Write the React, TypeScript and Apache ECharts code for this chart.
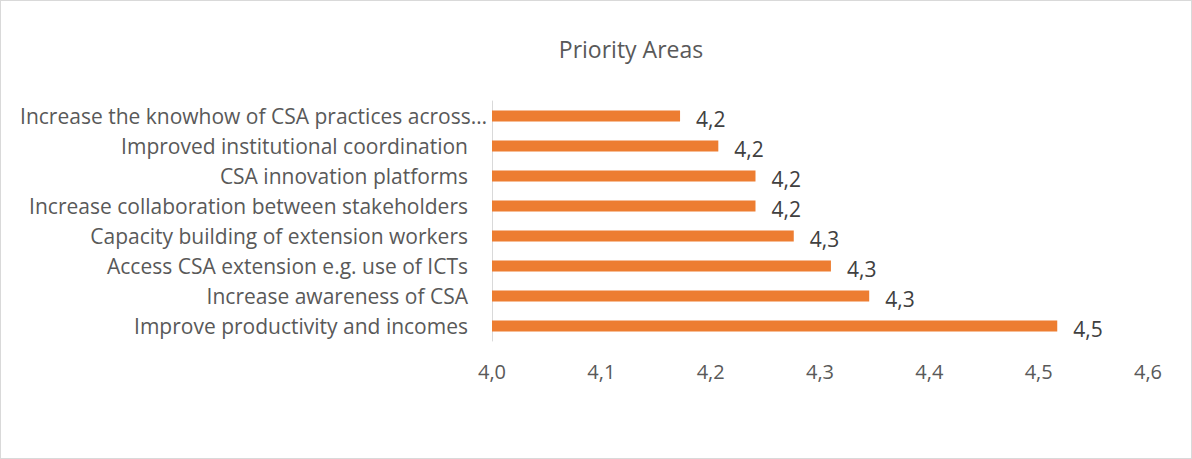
import React, { useEffect, useRef } from "react";
import * as echarts from "echarts";

const categories = [
  "Increase the knowhow of CSA practices across…",
  "Improved institutional coordination",
  "CSA innovation platforms",
  "Increase collaboration between stakeholders",
  "Capacity building of extension workers",
  "Access CSA extension e.g. use of ICTs",
  "Increase awareness of CSA",
  "Improve productivity and incomes",
];
const values = [4.172, 4.207, 4.241, 4.241, 4.276, 4.31, 4.345, 4.517];
const xMin = 4.0;
const xMax = 4.6;
const xInterval = 0.1;

const FONT = "Open Sans";

export default function App() {
  const ref = useRef<HTMLDivElement>(null);
  useEffect(() => {
    document.body.style.margin = "0";
    const chart = echarts.init(ref.current!, undefined, { renderer: "svg" });
    chart.setOption({
      animation: false,
      backgroundColor: "#ffffff",
      title: {
        text: "Priority Areas",
        left: 625,
        top: 31,
        textAlign: "center",
        textStyle: { fontFamily: FONT, fontSize: 23, fontWeight: "normal", color: "#595959" },
      },
      grid: { left: 491, right: 43, top: 100, bottom: 117, containLabel: false },
      xAxis: {
        type: "value",
        min: xMin,
        max: xMax,
        interval: xInterval,
        axisLine: { show: false },
        axisTick: { show: false },
        splitLine: { show: false },
        axisLabel: {
          margin: 20,
          fontFamily: FONT,
          fontSize: 20,
          color: "#595959",
          formatter: (v: number) => v.toFixed(1).replace(".", ","),
        },
      },
      yAxis: {
        type: "category",
        data: categories,
        inverse: true,
        axisLine: { show: true, lineStyle: { color: "#d9d9d9", width: 1 } },
        axisTick: { show: false },
        axisLabel: {
          margin: 5,
          fontFamily: FONT,
          fontSize: 21,
          color: "#595959",
          formatter: (v: string, i: number) => (i === 0 ? `{b|${v}}` : `{a|${v}}`),
          rich: {
            a: { fontFamily: FONT, fontSize: 21, color: "#595959", padding: [0, 19, 0, 0] },
            b: { fontFamily: FONT, fontSize: 21, color: "#595959" },
          },
        },
      },
      series: [
        {
          type: "bar",
          data: values,
          barWidth: 11,
          itemStyle: { color: "#ed7d31" },
          label: {
            show: true,
            position: "right",
            distance: 16,
            offset: [0, 3],
            fontFamily: FONT,
            fontSize: 21,
            color: "#404040",
            formatter: (p: any) => (Math.round(p.value * 10) / 10).toFixed(1).replace(".", ","),
          },
        },
      ],
    });
    return () => chart.dispose();
  }, []);
  return (
    <div
      ref={ref}
      style={{ width: 1192, height: 459, boxSizing: "border-box", border: "1px solid #d9d9d9" }}
    />
  );
}
